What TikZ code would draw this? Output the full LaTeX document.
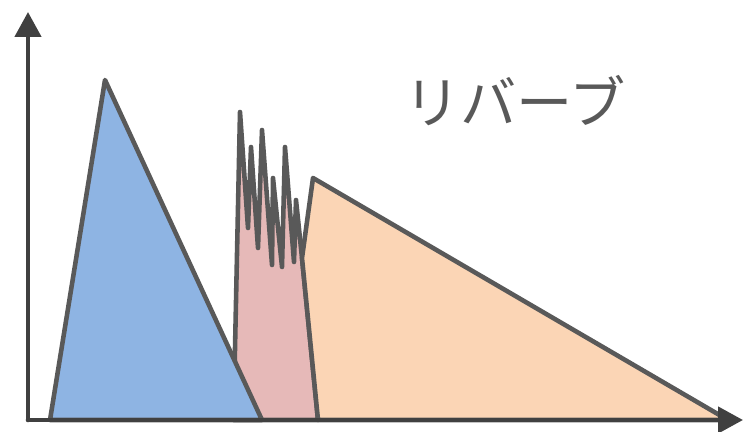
\documentclass[tikz,border=0pt]{standalone}
\usepackage{fontspec}
\newfontfamily\jpfont{Noto Sans CJK JP}
\usetikzlibrary{arrows.meta}
\definecolor{edgegray}{HTML}{595959}
\definecolor{axisgray}{HTML}{404040}
\definecolor{directblue}{HTML}{8EB4E3}
\definecolor{earlypink}{HTML}{E6B9B8}
\definecolor{latepeach}{HTML}{FBD5B5}
\begin{document}
\begin{tikzpicture}[x=0.02cm,y=0.02cm,line cap=round,line join=round,
  wave/.style={draw=edgegray,line width=2.6pt},
  axis/.style={draw=axisgray,line width=2.6pt,-{Triangle[length=0.5cm,width=0.52cm]}}]
\useasboundingbox (0,0) rectangle (743,432);
% early reflections
\filldraw[wave,fill=earlypink] (233.5,12) -- (240,320) -- (248,204) -- (251,285) -- (258,184)
  -- (262,302) -- (272,167) -- (273,254) -- (282,165) -- (285,285) -- (294,170)
  -- (296,232) -- (302,174) -- (318,12) -- cycle;
% late reverb
\filldraw[wave,fill=latepeach] (318,12) -- (302,174) -- (313,254) -- (728,12) -- cycle;
% direct sound
\filldraw[wave,fill=directblue] (50,12) -- (105,352) -- (262,12) -- cycle;
% axes
\draw[axis] (28,12) -- (28,420);
\draw[axis] (28,12) -- (743,12);
\node[text=edgegray,font=\jpfont\fontsize{32}{38}\selectfont] (reverb) at (515,331) {リバーブ};
\end{tikzpicture}
\end{document}
